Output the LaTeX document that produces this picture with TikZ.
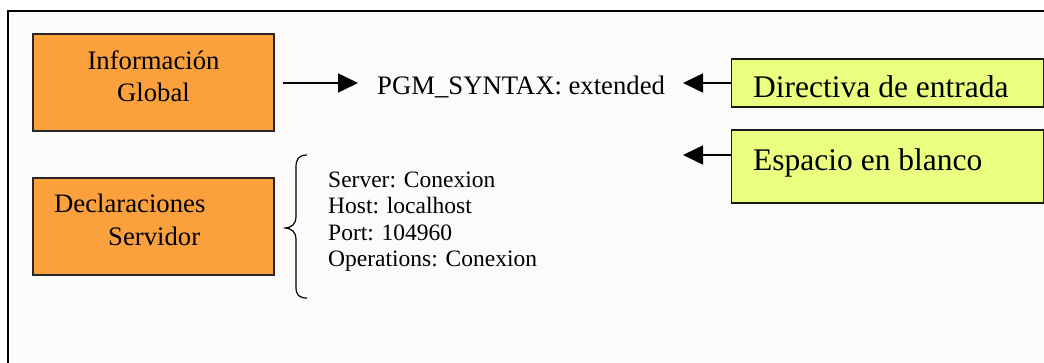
\documentclass[tikz,border=0pt]{standalone}
\usepackage{fontspec}
\setmainfont{Liberation Serif}
\usetikzlibrary{arrows.meta}
\definecolor{boxorange}{RGB}{250,160,60}
\definecolor{boxyellow}{RGB}{232,255,128}
\definecolor{paper}{RGB}{251,251,249}
\begin{document}
\begin{tikzpicture}[x=1pt,y=-1pt,
  orangebox/.style={draw=black!85, line width=1.3pt, fill=boxorange, inner sep=0pt, outer sep=0pt, minimum width=241pt, minimum height=97pt},
  yellowbox/.style={draw=black!90, line width=1.3pt, fill=boxyellow, inner sep=0pt, outer sep=0pt},
  bigtxt/.style={anchor=base west, inner sep=0pt, font=\fontsize{26.7}{32}\selectfont},
  midtxt/.style={anchor=base, inner sep=0pt, font=\fontsize{26.7}{32}\selectfont},
  ytxt/.style={anchor=base west, inner sep=0pt, font=\fontsize{31.5}{36}\selectfont},
  listtxt/.style={anchor=base west, inner sep=0pt, font=\fontsize{23.5}{26}\selectfont},
  arr/.style={line width=1.5pt, -{Triangle[length=20pt,width=19pt]}}
]
\useasboundingbox (0,0) rectangle (1044,362);
\clip (0,0) rectangle (1044,362);
\fill[white] (0,0) rectangle (1044,362);
% outer frame
\draw[line width=1.3pt, fill=paper] (8,11) rectangle (1070,390);

% orange boxes
\node[orangebox] (ig) at (153.5,82.5) {};
\node[midtxt] (igA) at (153.5,69.5) {Información};
\node[midtxt] (igB) at (153.5,101.5) {Global};

\node[orangebox] (ds) at (153.5,226.5) {};
\node[bigtxt] (dsA) at (54,212.5) {Declaraciones};
\node[bigtxt] (dsB) at (108,245) {Servidor};

% central text
\node[bigtxt] (pgm) at (377,94) {PGM\_SYNTAX: extended};

% yellow boxes
\node[yellowbox, minimum width=312pt, minimum height=48pt] (dir) at (887.5,83) {};
\node[ytxt] (dirT) at (753,97) {Directiva de entrada};
\node[yellowbox, minimum width=312pt, minimum height=73pt] (esp) at (887.5,166.5) {};
\node[ytxt] (espT) at (753,170) {Espacio en blanco};

% arrows
\coordinate (a1s) at (283,83);
\coordinate (a1e) at (358,83);
\coordinate (a2e) at (683,83);
\coordinate (a3e) at (683,155);
\draw[arr] (a1s) -- (a1e);
\draw[arr] (dir.west) -- (a2e);
\draw[arr] (dir.west |- a3e) -- (a3e);

% brace
\coordinate (br) at (284,228);
\draw[line width=1.2pt] (307,155) .. controls (299,155) and (296,159) .. (296,167)
  -- (296,216) .. controls (296,224) and (292,228) .. (br)
  .. controls (292,228) and (296,232) .. (296,240)
  -- (296,287) .. controls (296,295) and (299,298) .. (307,298);

% list
\node[listtxt] (l1) at (328,187) {Server: Conexion};
\node[listtxt] (l2) at (328,213.5) {Host: localhost};
\node[listtxt] (l3) at (328,240) {Port: 104960};
\node[listtxt] (l4) at (328,266.5) {Operations: Conexion};
\end{tikzpicture}
\end{document}
